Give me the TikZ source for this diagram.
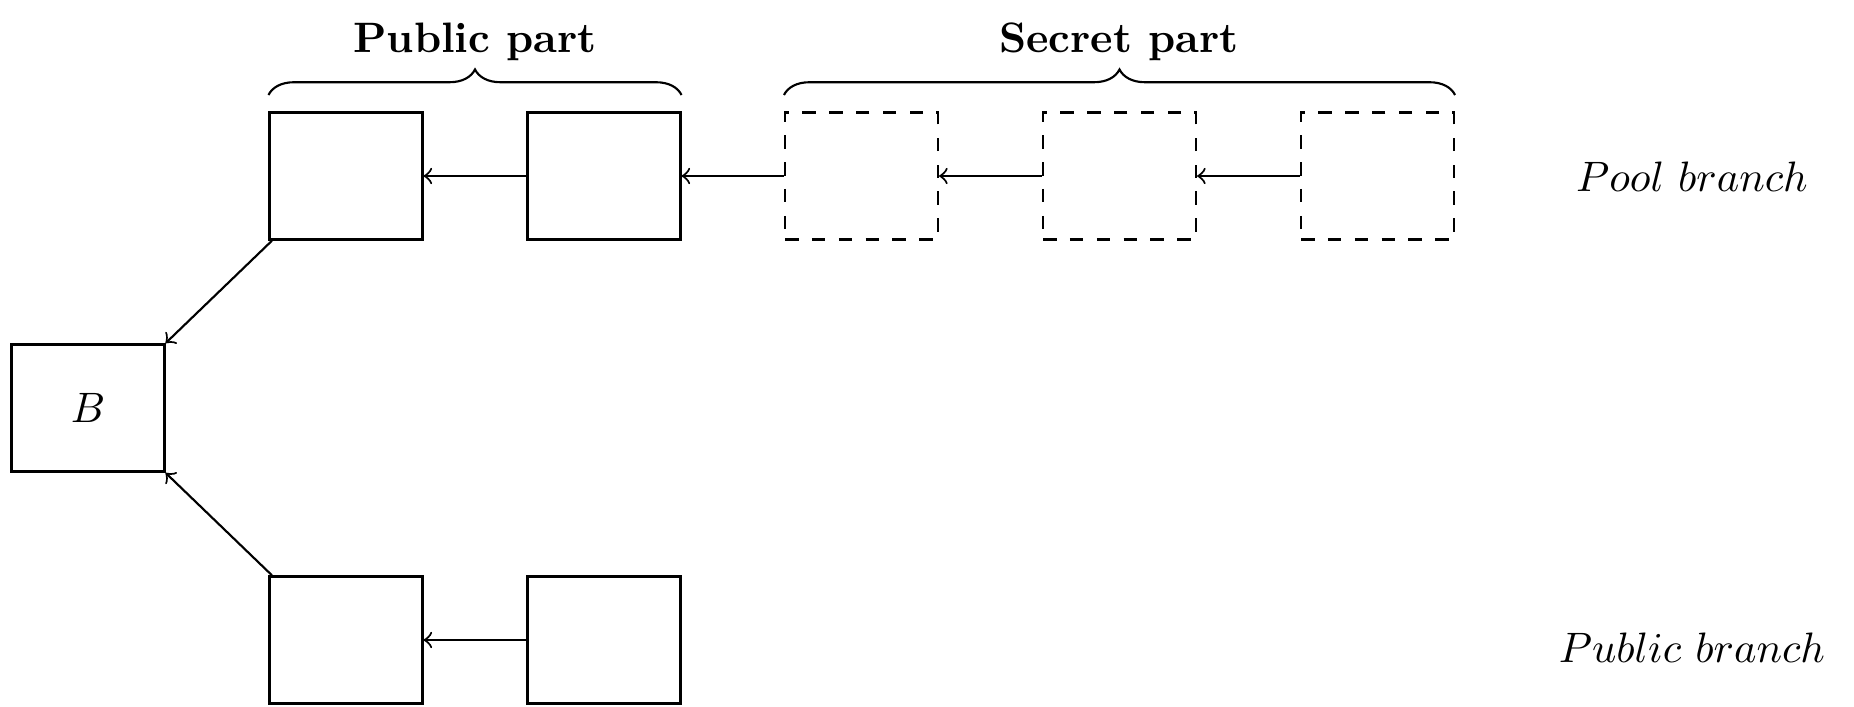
\documentclass[tikz,border=0pt]{standalone}
\usetikzlibrary{decorations.pathreplacing}
\begin{document}
\begin{tikzpicture}[x=0.235pt,y=-0.235pt,
  blk/.style={draw,line width=0.55pt,minimum width=35.9pt,minimum height=29.9pt,inner sep=0pt},
  sblk/.style={blk,dash pattern=on 3.15pt off 3.15pt},
  lnk/.style={->,line width=0.5pt},
  brc/.style={decorate,decoration={brace,amplitude=6pt},line width=0.5pt},
  ttl/.style={font=\bfseries,anchor=base,inner sep=0pt},
  lbl/.style={inner sep=0pt}]
\useasboundingbox (0,0) rectangle (1854,706);
% blocks
\node[blk] (B) at (88,408) {$B$};
\node[blk] (p1) at (346,176) {};
\node[blk] (p2) at (604,176) {};
\node[sblk] (s1) at (861.5,176) {};
\node[sblk] (s2) at (1119.5,176) {};
\node[sblk] (s3) at (1377.5,176) {};
\node[blk] (q1) at (346,640) {};
\node[blk] (q2) at (604,640) {};
% connectors
\draw[lnk] (p2.west) -- (p1.east);
\draw[lnk] (s1.west) -- (p2.east);
\draw[lnk] (s2.west) -- (s1.east);
\draw[lnk] (s3.west) -- (s2.east);
\draw[lnk] (q2.west) -- (q1.east);
\draw[lnk] ([xshift=0.8pt]p1.south west) -- (B.north east);
\draw[lnk] ([xshift=0.8pt]q1.north west) -- (B.south east);
% braces
\coordinate (b1l) at (p1.north west |- 0,95);
\coordinate (b1r) at (p2.north east |- 0,95);
\coordinate (b2l) at (s1.north west |- 0,95);
\coordinate (b2r) at (s3.north east |- 0,95);
\draw[brc] (b1l) -- (b1r);
\draw[brc] (b2l) -- (b2r);
\node[ttl] (tpub) at (475,53) {Public part};
\node[ttl] (tsec) at (1119,53) {Secret part};
% branch labels
\node[lbl] (lpool) at (1692,177) {$Pool\ branch$};
\node[lbl] (lpub) at (1692,648) {$Public\ branch$};
\end{tikzpicture}
\end{document}
